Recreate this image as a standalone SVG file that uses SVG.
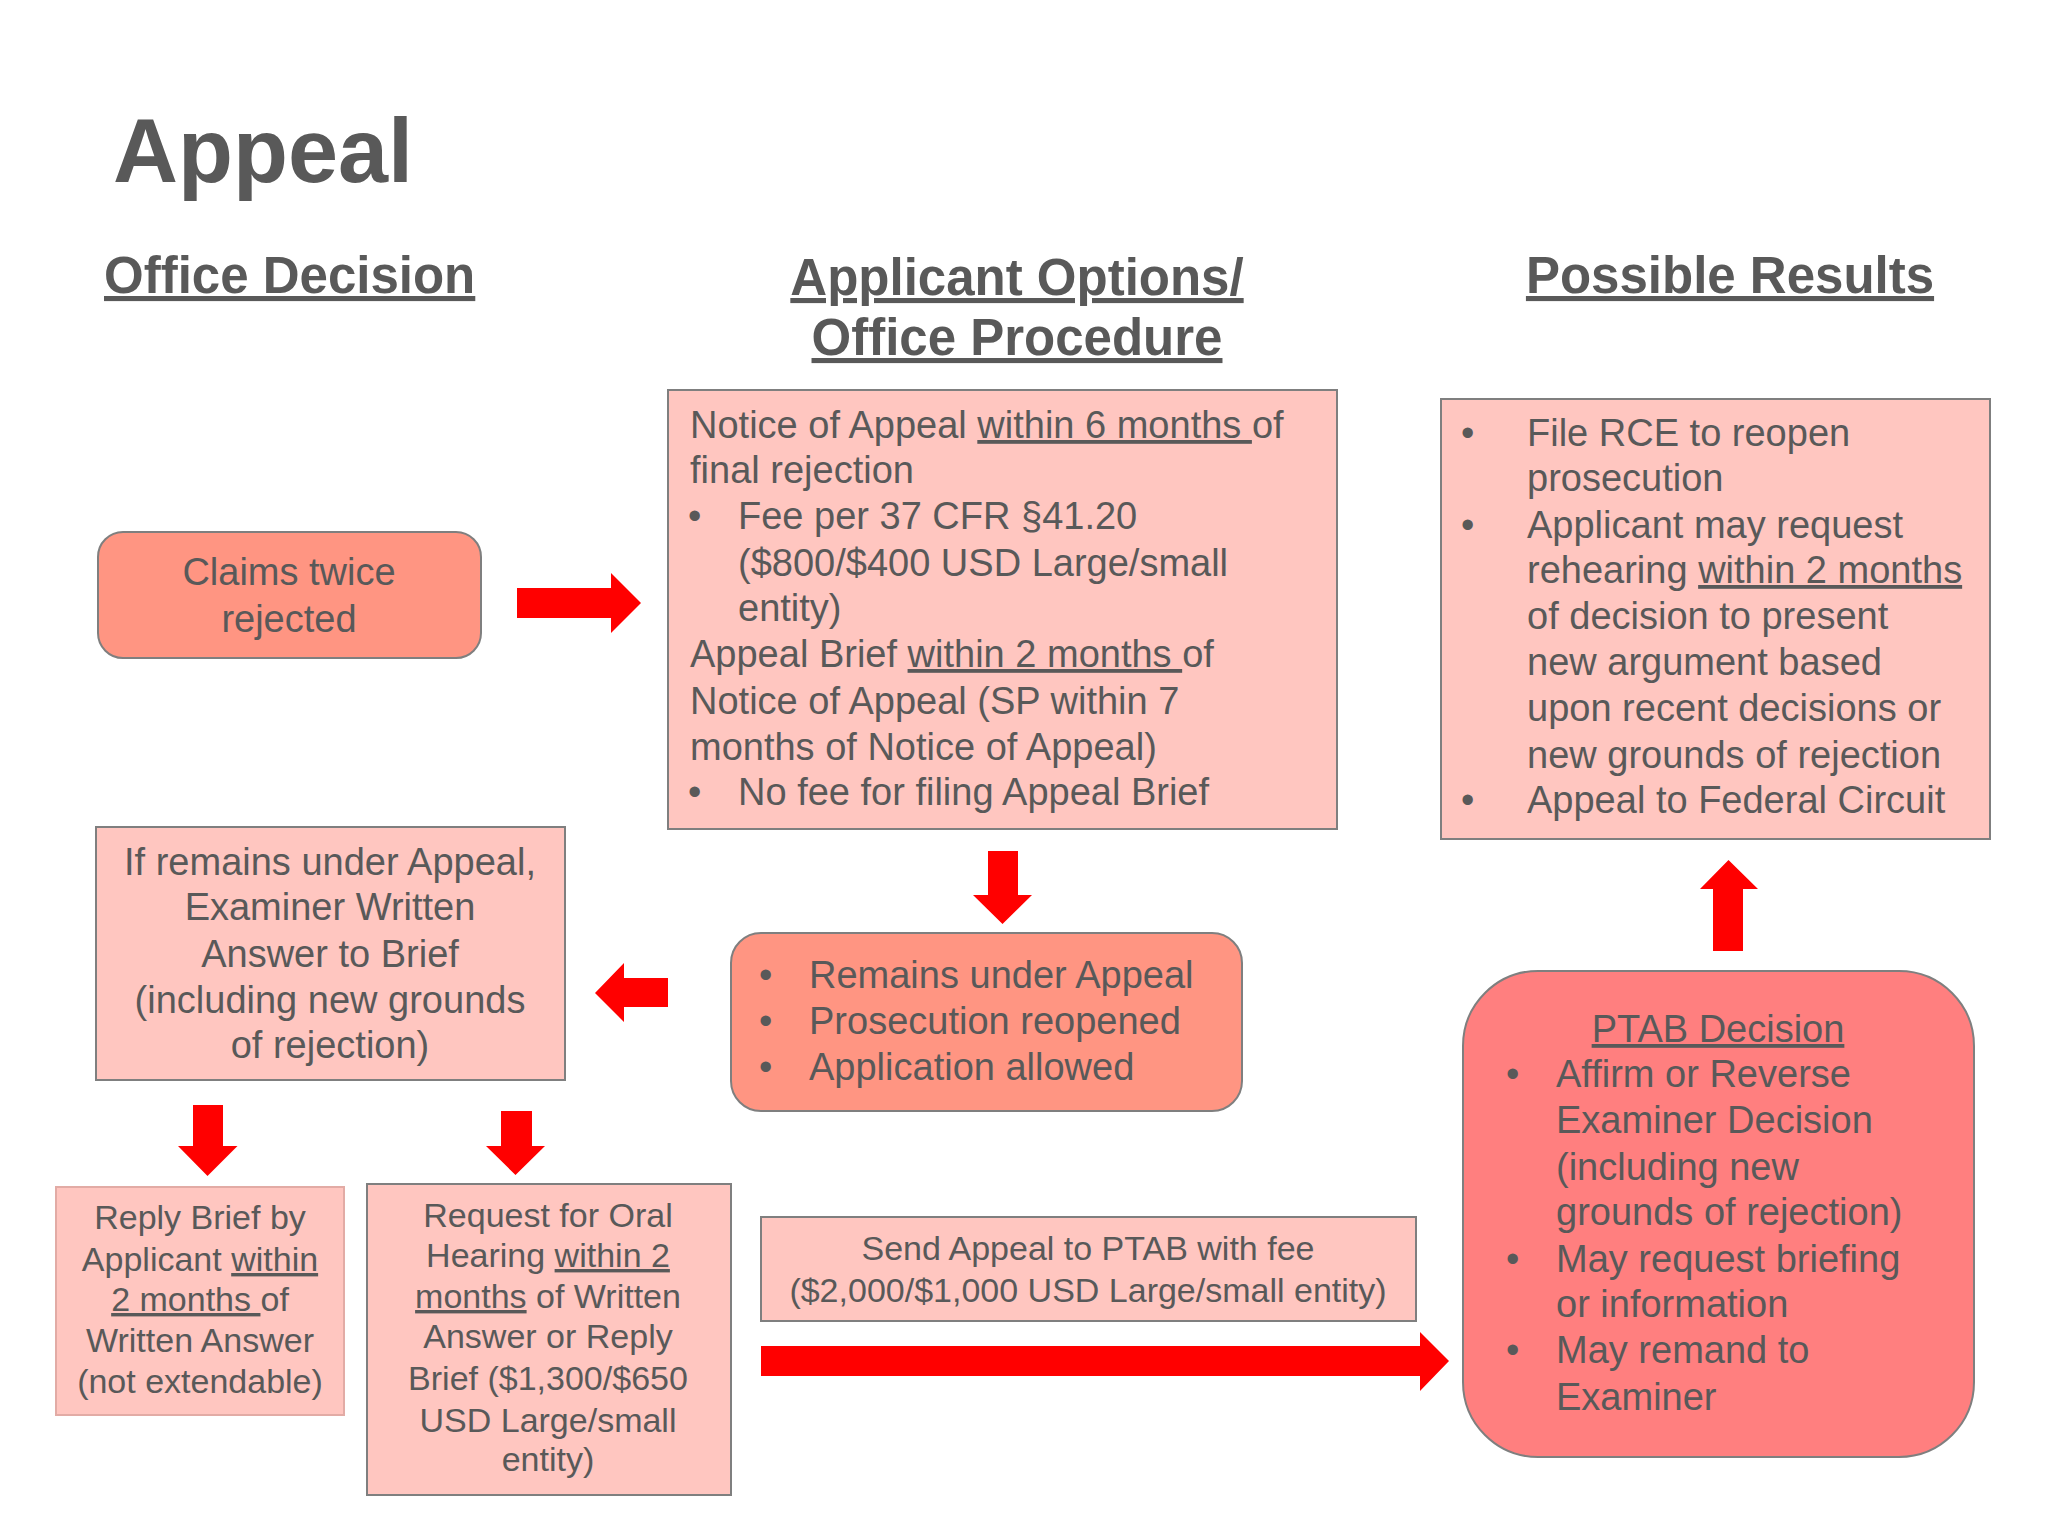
<svg xmlns="http://www.w3.org/2000/svg" width="2048" height="1536" viewBox="0 0 2048 1536">
<style>
  text { font-family: "Liberation Sans", Arial, sans-serif; fill: #595959; }
  .title { font-size: 90px; font-weight: bold; }
  .hdr { font-size: 51px; font-weight: bold; text-decoration: underline; }
  .t38 { font-size: 38px; }
  .t34 { font-size: 34px; }
  .mid { text-anchor: middle; }
  .u { text-decoration: underline; }
  .light { fill: #FFC6C0; stroke: #7F7F7F; stroke-width: 2; }
  .salmon { fill: #FF9582; stroke: #7F7F7F; stroke-width: 2; }
  .coral { fill: #FF7F7F; stroke: #7F7F7F; stroke-width: 2; }
  .arrow { fill: #FF0000; }
</style>
<rect x="0" y="0" width="2048" height="1536" fill="#FFFFFF"/>

<g id="title">
  <text class="title" x="113" y="182">Appeal</text>
</g>
<g id="headers">
  <text class="hdr" x="104" y="293">Office Decision</text>
  <text class="hdr mid" x="1017" y="295">Applicant Options/</text>
  <text class="hdr mid" x="1017" y="355">Office Procedure</text>
  <text class="hdr mid" x="1730" y="293">Possible Results</text>
</g>

<g id="connectors">
  <polygon class="arrow" points="517,588 611,588 611,573 641,603 611,633 611,618 517,618"/>
  <polygon class="arrow" points="988,851 1018,851 1018,895 1032,895 1002.5,924 973,895 988,895"/>
  <polygon class="arrow" points="668,978 624,978 624,963 595,993 624,1022 624,1007 668,1007"/>
  <polygon class="arrow" points="193,1105 223,1105 223,1146 237.5,1146 207.5,1176 178,1146 193,1146"/>
  <polygon class="arrow" points="501,1111 532,1111 532,1146 545,1146 515.5,1175 486,1146 501,1146"/>
  <polygon class="arrow" points="761,1346 1420,1346 1420,1332 1449,1361 1420,1391 1420,1376 761,1376"/>
  <polygon class="arrow" points="1713,951 1743,951 1743,889 1758,889 1728.5,860 1700,889 1713,889"/>
</g>

<g id="node-claims">
  <rect class="salmon" x="98" y="532" width="383" height="126" rx="25" ry="25"/>
  <text class="t38 mid" x="289" y="585">Claims twice</text>
  <text class="t38 mid" x="289" y="632">rejected</text>
</g>

<g id="node-notice">
  <rect class="light" x="668" y="390" width="669" height="439"/>
  <text class="t38" x="690" y="438">Notice of Appeal <tspan class="u">within 6 months </tspan>of</text>
  <text class="t38" x="690" y="483">final rejection</text>
  <text class="t38" x="688" y="529">•</text>
  <text class="t38" x="738" y="529">Fee per 37 CFR §41.20</text>
  <text class="t38" x="738" y="576">($800/$400 USD Large/small</text>
  <text class="t38" x="738" y="621">entity)</text>
  <text class="t38" x="690" y="667">Appeal Brief <tspan class="u">within 2 months </tspan>of</text>
  <text class="t38" x="690" y="714">Notice of Appeal (SP within 7</text>
  <text class="t38" x="690" y="760">months of Notice of Appeal)</text>
  <text class="t38" x="688" y="805">•</text>
  <text class="t38" x="738" y="805">No fee for filing Appeal Brief</text>
</g>

<g id="node-results">
  <rect class="light" x="1441" y="399" width="549" height="440"/>
  <text class="t38" x="1461" y="446">•</text>
  <text class="t38" x="1527" y="446">File RCE to reopen</text>
  <text class="t38" x="1527" y="491">prosecution</text>
  <text class="t38" x="1461" y="538">•</text>
  <text class="t38" x="1527" y="538">Applicant may request</text>
  <text class="t38" x="1527" y="583">rehearing <tspan class="u">within 2 months</tspan></text>
  <text class="t38" x="1527" y="629">of decision to present</text>
  <text class="t38" x="1527" y="675">new argument based</text>
  <text class="t38" x="1527" y="721">upon recent decisions or</text>
  <text class="t38" x="1527" y="768">new grounds of rejection</text>
  <text class="t38" x="1461" y="813">•</text>
  <text class="t38" x="1527" y="813">Appeal to Federal Circuit</text>
</g>

<g id="node-answer">
  <rect class="light" x="96" y="827" width="469" height="253"/>
  <text class="t38 mid" x="330" y="875">If remains under Appeal,</text>
  <text class="t38 mid" x="330" y="920">Examiner Written</text>
  <text class="t38 mid" x="330" y="967">Answer to Brief</text>
  <text class="t38 mid" x="330" y="1013">(including new grounds</text>
  <text class="t38 mid" x="330" y="1058">of rejection)</text>
</g>

<g id="node-remains">
  <rect class="salmon" x="731" y="933" width="511" height="178" rx="30" ry="30"/>
  <text class="t38" x="759" y="988">•</text>
  <text class="t38" x="809" y="988">Remains under Appeal</text>
  <text class="t38" x="759" y="1034">•</text>
  <text class="t38" x="809" y="1034">Prosecution reopened</text>
  <text class="t38" x="759" y="1080">•</text>
  <text class="t38" x="809" y="1080">Application allowed</text>
</g>

<g id="node-reply">
  <rect x="56" y="1187" width="288" height="228" fill="#FFC6C0" stroke="#E2ABA5" stroke-width="2"/>
  <text class="t34 mid" x="200" y="1229">Reply Brief by</text>
  <text class="t34 mid" x="200" y="1271">Applicant <tspan class="u">within</tspan></text>
  <text class="t34 mid" x="200" y="1311"><tspan class="u">2 months </tspan>of</text>
  <text class="t34 mid" x="200" y="1352">Written Answer</text>
  <text class="t34 mid" x="200" y="1393">(not extendable)</text>
</g>

<g id="node-oral">
  <rect class="light" x="367" y="1184" width="364" height="311"/>
  <text class="t34 mid" x="548" y="1227">Request for Oral</text>
  <text class="t34 mid" x="548" y="1267">Hearing <tspan class="u">within 2</tspan></text>
  <text class="t34 mid" x="548" y="1308"><tspan class="u">months</tspan> of Written</text>
  <text class="t34 mid" x="548" y="1348">Answer or Reply</text>
  <text class="t34 mid" x="548" y="1390">Brief ($1,300/$650</text>
  <text class="t34 mid" x="548" y="1432">USD Large/small</text>
  <text class="t34 mid" x="548" y="1471">entity)</text>
</g>

<g id="node-send">
  <rect class="light" x="761" y="1217" width="655" height="104"/>
  <text class="t34 mid" x="1088" y="1260">Send Appeal to PTAB with fee</text>
  <text class="t34 mid" x="1088" y="1302">($2,000/$1,000 USD Large/small entity)</text>
</g>

<g id="node-ptab">
  <rect class="coral" x="1463" y="971" width="511" height="486" rx="75" ry="75"/>
  <text class="t38 mid u" x="1718" y="1042">PTAB Decision</text>
  <text class="t38" x="1506" y="1087">•</text>
  <text class="t38" x="1556" y="1087">Affirm or Reverse</text>
  <text class="t38" x="1556" y="1133">Examiner Decision</text>
  <text class="t38" x="1556" y="1180">(including new</text>
  <text class="t38" x="1556" y="1225">grounds of rejection)</text>
  <text class="t38" x="1506" y="1272">•</text>
  <text class="t38" x="1556" y="1272">May request briefing</text>
  <text class="t38" x="1556" y="1317">or information</text>
  <text class="t38" x="1506" y="1363">•</text>
  <text class="t38" x="1556" y="1363">May remand to</text>
  <text class="t38" x="1556" y="1410">Examiner</text>
</g>
</svg>
